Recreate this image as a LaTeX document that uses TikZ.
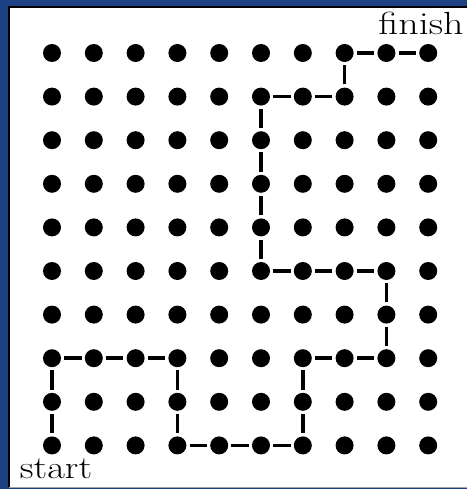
\documentclass[tikz,border=0pt]{standalone}
\usepackage{fontspec}
\definecolor{bgblue}{RGB}{28,66,132}
\tikzset{
  dot/.style={circle,fill=black,inner sep=0pt,minimum size=18pt},
  link/.style={line width=3.5pt,shorten <=3pt,shorten >=3pt},
  lbl/.style={inner sep=0pt,font=\fontsize{32}{32}\selectfont}
}
\begin{document}
\begin{tikzpicture}[x=1pt,y=-1pt]
\fill[bgblue] (0,0) rectangle (467,489);
\useasboundingbox (0,0) rectangle (467,489);
\fill[white] (9,7) rectangle (467,487);
\draw[black,line width=2pt] (467,7) -- (9,7) -- (9,487);
\draw[gray!70,line width=0.8pt] (9,487) -- (467,487);
\foreach \i in {0,...,9}{
  \foreach \j in {0,...,9}{
    \node[dot] (d\i-\j) at ({52+41.8*\i},{53+43.6*\j}) {};
  }
}
\foreach \a/\b in {0-9/0-8,0-8/0-7,0-7/1-7,1-7/2-7,2-7/3-7,3-7/3-8,3-8/3-9,3-9/4-9,4-9/5-9,5-9/6-9,6-9/6-8,6-8/6-7,6-7/7-7,7-7/8-7,8-7/8-6,8-6/8-5,8-5/7-5,7-5/6-5,6-5/5-5,5-5/5-4,5-4/5-3,5-3/5-2,5-2/5-1,5-1/6-1,6-1/7-1,7-1/7-0,7-0/8-0,8-0/9-0}{
  \draw[link] (d\a) -- (d\b);
}
\node[lbl,anchor=base] (finish) at (421,35) {\scalebox{1.25}[1]{finish}};
\node[lbl,anchor=base] (start) at (56,478) {\scalebox{1.2}[1]{start}};
\end{tikzpicture}
\end{document}
